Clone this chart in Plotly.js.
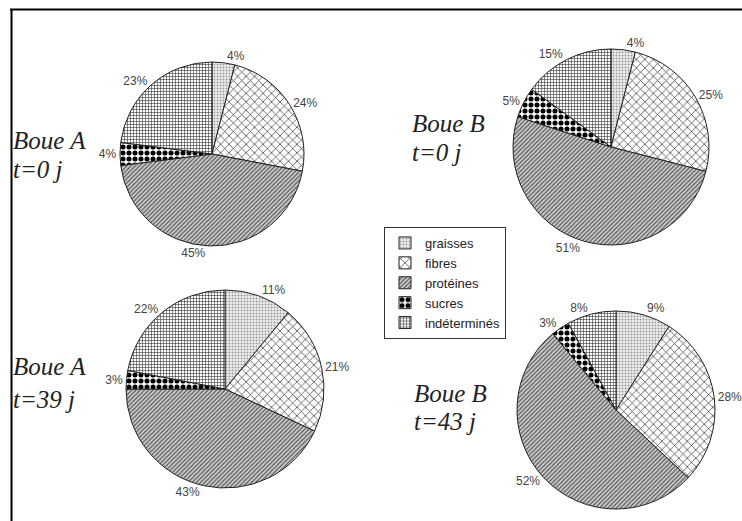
<!DOCTYPE html>
<html>
<head>
<meta charset="utf-8">
<script src="https://cdn.plot.ly/plotly-3.0.1.min.js"></script>
<style>html,body{margin:0;padding:0;background:#fff;}#chart{width:742px;height:521px;}</style>
</head>
<body>
<div id="chart"></div>
<script>
// ---- data ----
const categories = ["graisses", "fibres", "protéines", "sucres", "indéterminés"];
const boueA_t0 = [4, 24, 45, 4, 23];
const boueB_t0 = [4, 25, 51, 5, 15];
const boueA_t39 = [11, 21, 43, 3, 22];
const boueB_t43 = [9, 28, 52, 3, 8];
const titleLines = [
  ["Boue A", "t=0 j"],
  ["Boue B", "t=0 j"],
  ["Boue A", "t=39 j"],
  ["Boue B", "t=43 j"]
];

// ---- styling ----
const W = 742, H = 521;
const px = x => x / W;
const py = y => 1 - y / H;

const patShapes = [".", "x", "/", ".", "+"];
const patFg = ["#999", "#333", "#555", "#000", "#333"];
const patBg = ["#f0f0f0", "#fff", "#d0d0d0", "#fff", "#fff"];
const patSize = [3, 6, 3, 6, 3];
const patSolid = [0.35, 0.22, 0.4, 0.55, 0.35];

function pie(values, cx, cy, r) {
  return {
    type: "pie",
    labels: categories,
    values: values,
    sort: false,
    direction: "clockwise",
    rotation: 0,
    textposition: "outside",
    texttemplate: "%{value}%",
    textfont: {family: "Liberation Sans, Arial, sans-serif", size: 12, color: "#444"},
    hoverinfo: "label+percent",
    marker: {
      colors: patBg,
      line: {color: "#222", width: 1},
      pattern: {shape: patShapes, fgcolor: patFg, bgcolor: patBg, size: patSize, solidity: patSolid}
    },
    domain: {x: [px(cx - r), px(cx + r)], y: [py(cy + r), py(cy - r)]}
  };
}

const data = [
  pie(boueA_t0, 212, 154, 92),
  pie(boueB_t0, 611, 147, 98),
  pie(boueA_t39, 225, 389, 99),
  pie(boueB_t43, 616, 410, 99)
];

const titlePos = [
  [11, 140, 169],
  [410, 123, 153],
  [11, 366, 399],
  [412, 393, 421]
];
const annotations = [];
titleLines.forEach((lines, i) => {
  const [x, y1, y2] = titlePos[i];
  [y1, y2].forEach((y, k) => {
    annotations.push({
      xref: "paper", yref: "paper", x: px(x), y: py(y),
      xanchor: "left", yanchor: "middle", showarrow: false,
      text: lines[k],
      font: {family: "\"Liberation Serif\", \"DejaVu Serif\", serif", size: 25, color: "#222", style: "italic"}
    });
  });
});

const layout = {
  width: W, height: H,
  margin: {l: 0, r: 0, t: 0, b: 0},
  paper_bgcolor: "#fff",
  showlegend: true,
  legend: {
    x: px(384), y: py(227), xanchor: "left", yanchor: "top",
    bordercolor: "#333", borderwidth: 1, bgcolor: "#fff",
    font: {family: "Liberation Sans, Arial, sans-serif", size: 13, color: "#222"},
    itemwidth: 30, traceorder: "normal"
  },
  annotations: annotations,
  shapes: [
    {type: "line", xref: "paper", yref: "paper", x0: px(10), x1: 1, y0: py(9.5), y1: py(9.5), line: {color: "#000", width: 2}},
    {type: "line", xref: "paper", yref: "paper", x0: px(11.5), x1: px(11.5), y0: py(9), y1: 0, line: {color: "#000", width: 2}}
  ]
};

Plotly.newPlot("chart", data, layout, {displayModeBar: false, staticPlot: true});
</script>
</body>
</html>
